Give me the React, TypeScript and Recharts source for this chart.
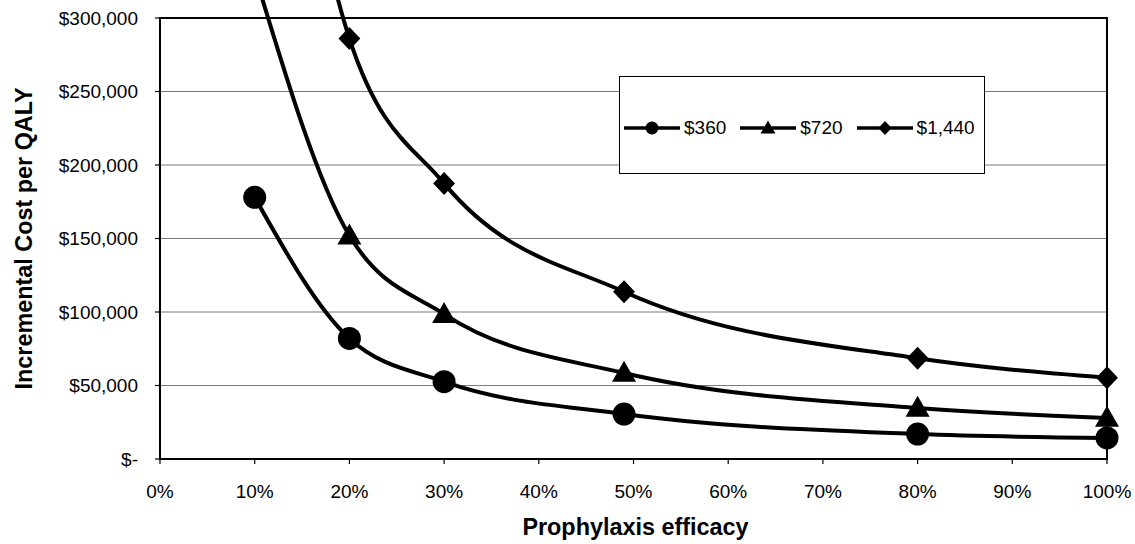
import React from 'react'
import { LineChart, Line, XAxis, YAxis, CartesianGrid, Legend, Label } from 'recharts'

// prophylaxis efficacy (fraction) and incremental cost per QALY for each prophylaxis cost
const efficacy = [0.1, 0.2, 0.3, 0.49, 0.8, 1.0]
const cost360 = [178000, 82000, 52600, 30600, 17000, 14300]
const cost720 = [330000, 152000, 98600, 58500, 34700, 27900]
const cost1440 = [616000, 286000, 187500, 113800, 68500, 55300]

const seriesNames = ['$360', '$720', '$1,440']
const xTicks = [0, 0.1, 0.2, 0.3, 0.4, 0.5, 0.6, 0.7, 0.8, 0.9, 1]
const yTicks = [0, 50000, 100000, 150000, 200000, 250000, 300000]

const rows = efficacy.map((x, i) => ({
  x,
  s360: cost360[i],
  s720: cost720[i],
  s1440: cost1440[i],
}))

const W = 1135
const H = 544
const MARGIN = { top: 18, right: 28, bottom: 0, left: 0 }
const Y_AXIS_W = 160
const X_AXIS_H = 85

const FONT = "'Liberation Sans', Arial, Helvetica, sans-serif"

const fmtPct = (v: number) => `${Math.round(v * 100)}%`
const fmtMoney = (v: number) => (v === 0 ? '$-' : '$' + v.toLocaleString('en-US'))

type DotProps = { cx?: number; cy?: number; index?: number; size?: number }

const CircleDot = ({ cx, cy, size = 11.5 }: DotProps) => {
  if (cx == null || cy == null) return null
  return <circle cx={cx} cy={cy} r={size} fill="#000" />
}

const TriangleDot = ({ cx, cy, size = 12 }: DotProps) => {
  if (cx == null || cy == null) return null
  const h = size * 1.75
  const top = cy - h * 0.58
  const bot = cy + h * 0.42
  return <path d={`M${cx},${top} L${cx + size},${bot} L${cx - size},${bot} Z`} fill="#000" />
}

const DiamondDot = ({ cx, cy, size = 11.5 }: DotProps) => {
  if (cx == null || cy == null) return null
  const w = size * 0.95
  return (
    <path
      d={`M${cx},${cy - size} L${cx + w},${cy} L${cx},${cy + size} L${cx - w},${cy} Z`}
      fill="#000"
    />
  )
}

const markers = [CircleDot, TriangleDot, DiamondDot]
const legendSizes = [6.5, 7.5, 7]

const ChartLegend = ({ payload }: { payload?: Array<{ value: string }> }) => {
  const items = [...(payload ?? [])].sort(
    (a, b) => seriesNames.indexOf(a.value) - seriesNames.indexOf(b.value)
  )
  return (
    <div
      style={{
        boxSizing: 'border-box',
        width: 366,
        height: 98,
        border: '1px solid #000',
        background: '#fff',
        display: 'flex',
        alignItems: 'center',
        paddingLeft: 4,
        paddingTop: 6,
        fontFamily: FONT,
        fontSize: 19,
        color: '#000',
      }}
    >
      {items.map((entry) => {
        const idx = seriesNames.indexOf(entry.value)
        const Marker = markers[idx]
        return (
          <div key={entry.value} style={{ display: 'flex', alignItems: 'center', marginRight: 14 }}>
            <svg width={56} height={20} style={{ marginRight: 4 }}>
              <line x1={0} y1={10} x2={56} y2={10} stroke="#000" strokeWidth={3.5} />
              <Marker cx={28} cy={10} size={legendSizes[idx]} />
            </svg>
            <span>{entry.value}</span>
          </div>
        )
      })}
    </div>
  )
}

type Box = { x: number; y: number; width: number; height: number }

const YTitle = ({ viewBox }: { viewBox?: Box }) => {
  if (!viewBox) return null
  const x = viewBox.x + 24
  const y = viewBox.y + viewBox.height / 2
  return (
    <text
      x={x}
      y={y}
      transform={`rotate(-90 ${x} ${y})`}
      textAnchor="middle"
      dominantBaseline="central"
      fontFamily={FONT}
      fontSize={23.4}
      fontWeight="bold"
      fill="#000"
    >
      Incremental Cost per QALY
    </text>
  )
}

const XTitle = ({ viewBox }: { viewBox?: Box }) => {
  if (!viewBox) return null
  return (
    <text
      x={viewBox.x + viewBox.width / 2 + 2}
      y={viewBox.y + 76}
      textAnchor="middle"
      fontFamily={FONT}
      fontSize={23.4}
      fontWeight="bold"
      fill="#000"
    >
      Prophylaxis efficacy
    </text>
  )
}

const tickStyle = { fontFamily: FONT, fontSize: 19, fill: '#000' }

export default function App() {
  // plot frame box, from the same layout numbers the chart uses
  const plotLeft = MARGIN.left + Y_AXIS_W
  const plotW = W - plotLeft - MARGIN.right
  const plotH = H - MARGIN.top - MARGIN.bottom - X_AXIS_H
  return (
    <div
      style={{
        position: 'absolute',
        left: 0,
        top: 0,
        width: W,
        height: H,
        overflow: 'hidden',
        background: '#fff',
      }}
    >
      {/* the curves run on past the top of the plot frame, as in the original */}
      <style>{`.recharts-line-curve, .recharts-line-dots { clip-path: none !important; }`}</style>
      <LineChart width={W} height={H} data={rows} margin={MARGIN}>
        <CartesianGrid vertical={false} stroke="#7a7a7a" strokeWidth={1} />
        <XAxis
          dataKey="x"
          type="number"
          domain={[0, 1]}
          ticks={xTicks}
          tickFormatter={fmtPct}
          height={X_AXIS_H}
          tick={tickStyle}
          tickSize={5}
          tickMargin={21}
          axisLine={{ stroke: '#000', strokeWidth: 1.8 }}
          tickLine={{ stroke: '#000', strokeWidth: 1.2 }}
        >
          <Label content={<XTitle />} />
        </XAxis>
        <YAxis
          type="number"
          domain={[0, 300000]}
          allowDataOverflow
          ticks={yTicks}
          tickFormatter={fmtMoney}
          width={Y_AXIS_W}
          tick={tickStyle}
          tickSize={5}
          tickMargin={17}
          axisLine={{ stroke: '#000', strokeWidth: 1.8 }}
          tickLine={{ stroke: '#000', strokeWidth: 1.2 }}
        >
          <Label content={<YTitle />} />
        </YAxis>
        <Line
          name={seriesNames[0]}
          dataKey="s360"
          type="monotone"
          stroke="#000"
          strokeWidth={4}
          dot={(p: DotProps) => <CircleDot key={`c-${p.index}`} {...p} />}
          activeDot={false}
          isAnimationActive={false}
        />
        <Line
          name={seriesNames[1]}
          dataKey="s720"
          type="monotone"
          stroke="#000"
          strokeWidth={4}
          dot={(p: DotProps) => <TriangleDot key={`t-${p.index}`} {...p} />}
          activeDot={false}
          isAnimationActive={false}
        />
        <Line
          name={seriesNames[2]}
          dataKey="s1440"
          type="monotone"
          stroke="#000"
          strokeWidth={4}
          dot={(p: DotProps) => <DiamondDot key={`d-${p.index}`} {...p} />}
          activeDot={false}
          isAnimationActive={false}
        />
        <Legend
          layout="horizontal"
          verticalAlign="middle"
          align="center"
          content={<ChartLegend />}
          wrapperStyle={{ position: 'absolute', left: 619, top: 76, width: 366, height: 98 }}
        />
      </LineChart>
      <div
        style={{
          position: 'absolute',
          boxSizing: 'border-box',
          left: plotLeft - 1,
          top: MARGIN.top - 1,
          width: plotW + 2,
          height: plotH + 2,
          border: '2px solid #000',
          pointerEvents: 'none',
        }}
      />
    </div>
  )
}
